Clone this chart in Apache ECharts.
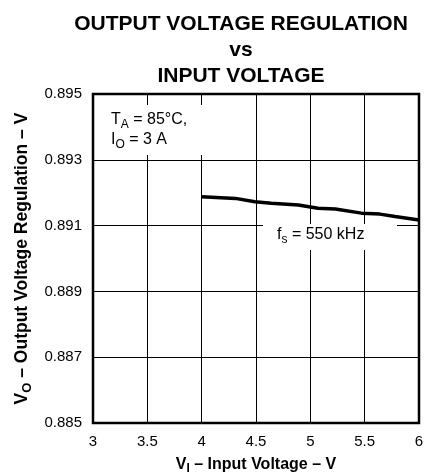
<!DOCTYPE html>
<html>
<head>
<meta charset="utf-8">
<script src="https://cdn.jsdelivr.net/npm/echarts@6/dist/echarts.min.js"></script>
<style>
  html, body { margin: 0; padding: 0; background: #fff; }
  #chart { width: 441px; height: 476px; }
</style>
</head>
<body>
<div id="chart"></div>
<script>
// input voltage (V) and output voltage regulation (V), fs = 550 kHz
const inputVoltage = [4.0, 4.31, 4.49, 4.64, 4.89, 5.07, 5.23, 5.47, 5.64, 5.78, 6.0]
const regulation = [0.891875, 0.891827, 0.891725, 0.891678, 0.891627, 0.891528, 0.891507, 0.891379, 0.891349, 0.891278, 0.89117]
const xTicks = [3, 3.5, 4, 4.5, 5, 5.5, 6]
const yTicks = [0.885, 0.887, 0.889, 0.891, 0.893, 0.895]

const font = 'Liberation Sans, Arial, sans-serif'
const chart = echarts.init(document.getElementById('chart'), null, { renderer: 'canvas' })

function richFor(size, bold) {
  const w = bold ? 'bold' : 'normal'
  return {
    n: { fontFamily: font, fontSize: size, fontWeight: w, color: '#000', lineHeight: size + 5 },
    s: { fontFamily: font, fontSize: Math.round(size * 0.72), fontWeight: w, color: '#000', lineHeight: Math.round(size * 0.72), verticalAlign: 'bottom' }
  }
}

const option = {
  animation: false,
  backgroundColor: '#fff',
  title: {
    text: 'OUTPUT VOLTAGE REGULATION\nvs\nINPUT VOLTAGE',
    left: 236,
    top: 6,
    textAlign: 'center',
    textStyle: { fontFamily: font, fontSize: 21, fontWeight: 'bold', color: '#000', lineHeight: 26 }
  },
  grid: {
    left: 93, right: 22, top: 94, bottom: 53,
    containLabel: false,
    outerBoundsMode: 'none',
    show: true, borderColor: '#000', borderWidth: 2.5, backgroundColor: 'transparent'
  },
  xAxis: {
    type: 'value',
    min: xTicks[0], max: xTicks[xTicks.length - 1], interval: 0.5,
    axisLine: { show: false },
    axisTick: { show: false },
    splitLine: { show: true, lineStyle: { color: '#000', width: 1 } },
    axisLabel: { fontFamily: font, fontSize: 15, color: '#000', margin: 11, formatter: v => String(v) },
    name: '{n|V}{s|I}{n| – Input Voltage – V}',
    nameLocation: 'middle',
    nameGap: 31,
    nameTextStyle: { rich: richFor(16, true) }
  },
  yAxis: {
    type: 'value',
    min: yTicks[0], max: yTicks[yTicks.length - 1], interval: 0.002,
    axisLine: { show: false },
    axisTick: { show: false },
    splitLine: { show: true, lineStyle: { color: '#000', width: 1 } },
    axisLabel: { fontFamily: font, fontSize: 15, color: '#000', margin: 11, formatter: v => v.toFixed(3) },
    name: '{n|V}{s|O}{n| – Output Voltage Regulation – V}',
    nameLocation: 'middle',
    nameRotate: 90,
    nameGap: 58,
    nameTextStyle: { rich: richFor(17.5, true) }
  },
  graphic: [
    { type: 'rect', z: 1, shape: { x: 95, y: 105, width: 112, height: 50 }, style: { fill: '#fff' } },
    { type: 'rect', z: 1, shape: { x: 263, y: 224, width: 134, height: 26 }, style: { fill: '#fff' } },
    { type: 'text', z: 3, left: 111, top: 112, style: { text: '{n|T}{s|A}{n| = 85°C,}', rich: richFor(16, false) } },
    { type: 'text', z: 3, left: 111, top: 132, style: { text: '{n|I}{s|O}{n| = 3 A}', rich: richFor(16, false) } },
    { type: 'text', z: 3, left: 277, top: 227, style: { text: '{n|f}{s|s}{n| = 550 kHz}', rich: richFor(16, false) } }
  ],
  series: [
    {
      type: 'line',
      data: inputVoltage.map((v, i) => [v, regulation[i]]),
      showSymbol: false,
      smooth: false,
      lineStyle: { color: '#000', width: 3.5 },
      z: 5
    }
  ]
}

chart.setOption(option)
</script>
</body>
</html>
